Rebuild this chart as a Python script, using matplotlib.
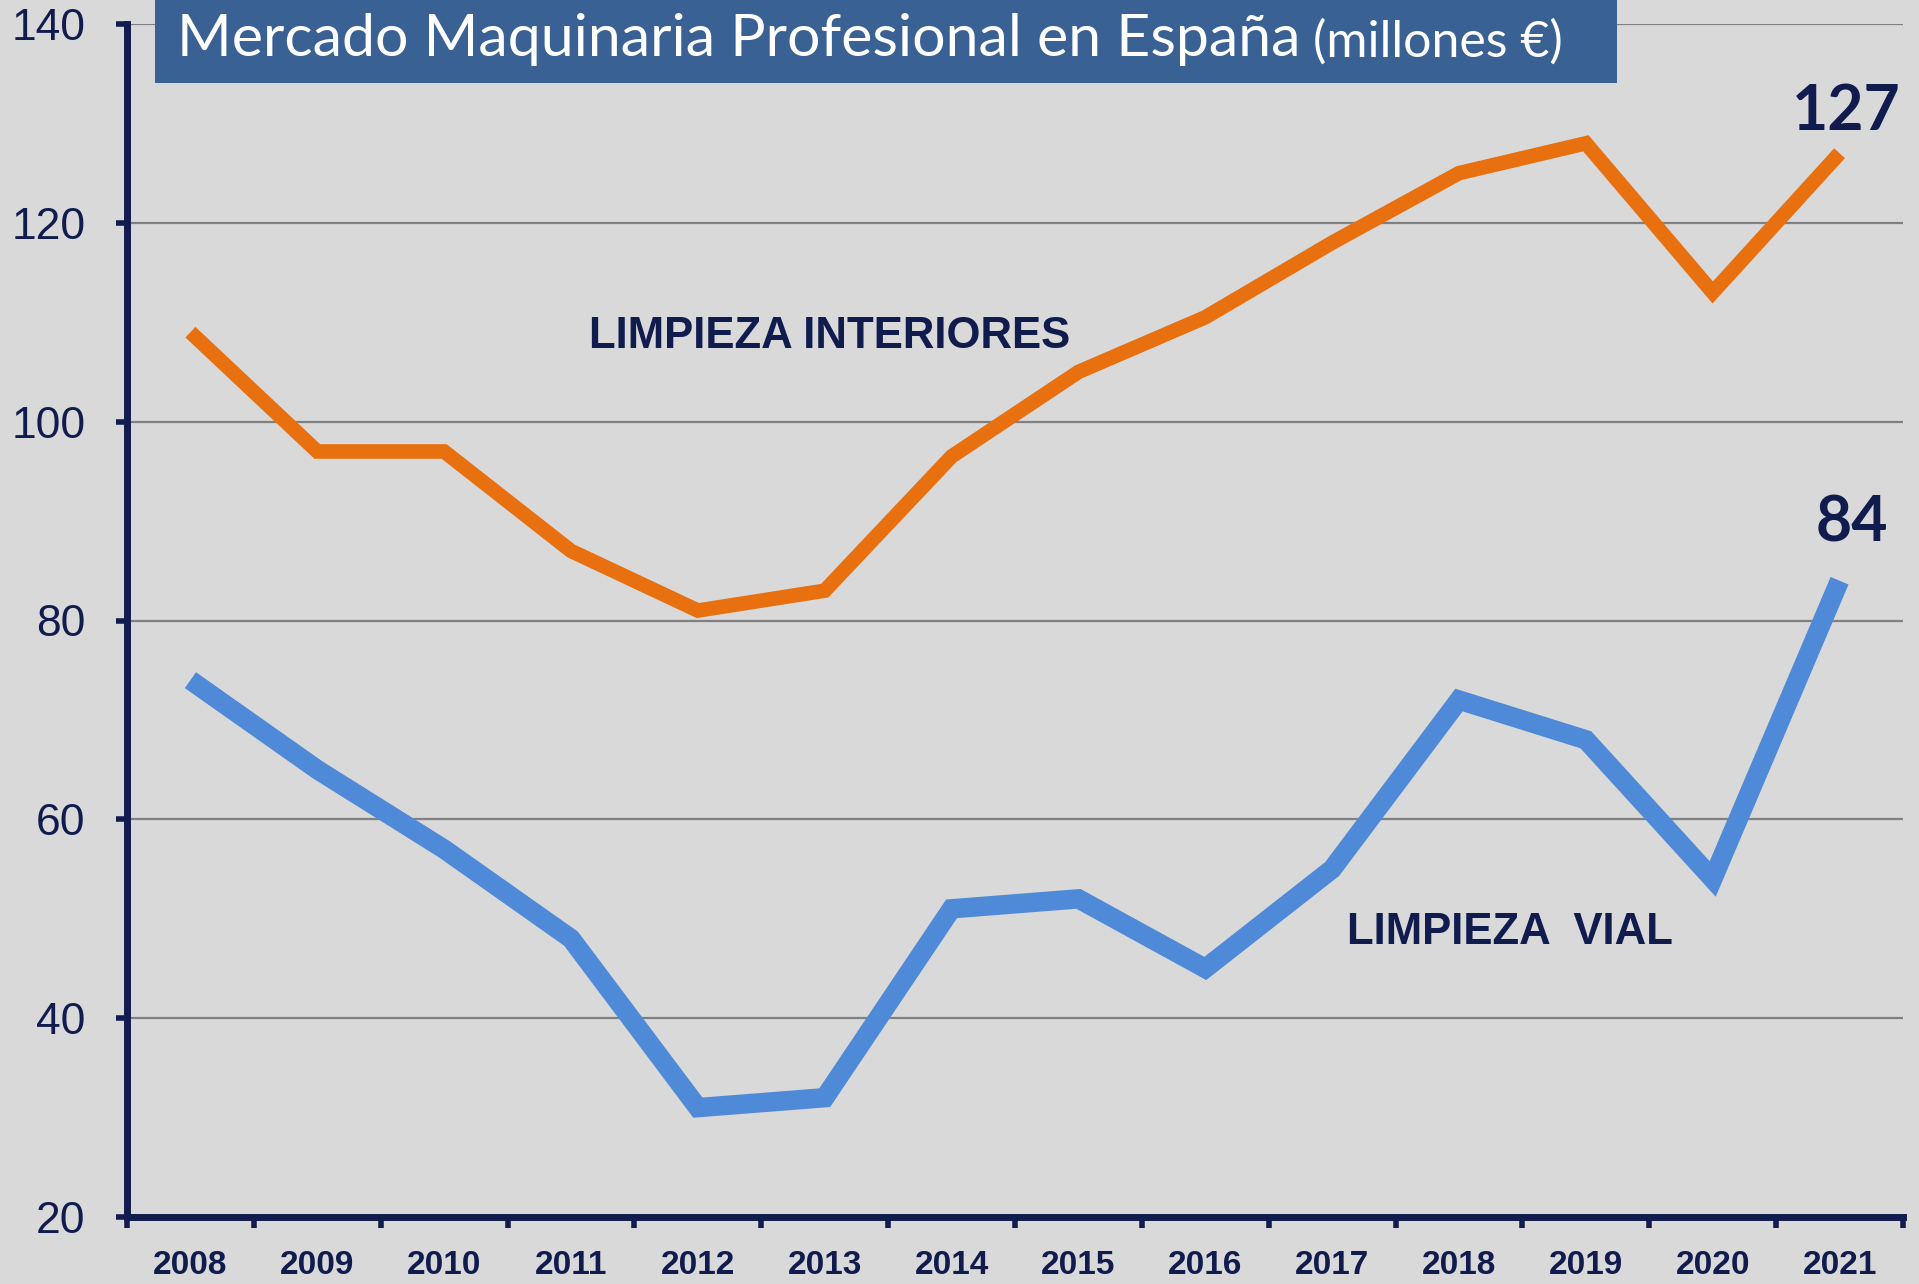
import matplotlib.pyplot as plt
from matplotlib.patches import Rectangle
from matplotlib.text import Annotation

years = ["2008", "2009", "2010", "2011", "2012", "2013", "2014",
         "2015", "2016", "2017", "2018", "2019", "2020", "2021"]
interiores = [109, 97, 97, 87, 81, 83, 96.5, 105, 110.5, 118, 125, 128, 113, 127]
vial = [74, 65, 57, 48, 31, 32, 51, 52, 45, 55, 72, 68, 54, 84]
yticks = [20, 40, 60, 80, 100, 120, 140]

title = "Mercado Maquinaria Profesional en España"
subtitle = "(millones €)"

bg = "#d9d9d9"
navy = "#111c4e"
orange = "#e8700f"
blue = "#4f8ad8"

fig = plt.figure(figsize=(19.19, 12.84), dpi=100, facecolor=bg)
ax = fig.add_axes([127 / 1919, 67 / 1284, 1776 / 1919, 1193 / 1284])
ax.set_facecolor(bg)

x = list(range(len(years)))
ax.plot(x, interiores, color=orange, lw=10.5, solid_joinstyle="miter",
        solid_capstyle="butt", zorder=3)
ax.plot(x, vial, color=blue, lw=14, solid_joinstyle="miter",
        solid_capstyle="butt", zorder=3)

ax.set_xlim(-0.5, len(years) - 0.5)
ax.set_ylim(20, 140)

# y axis
ax.set_yticks(yticks)
ax.set_yticklabels([str(v) for v in yticks], fontsize=32,
                   family="Liberation Sans", color=navy)
ax.tick_params(axis="y", length=8, width=4, color=navy, pad=22)
ax.yaxis.grid(True, color="#808080", lw=1.6, zorder=1)

# x axis: tick marks between categories, labels in the middle
ax.set_xticks([i - 0.5 for i in range(len(years) + 1)])
ax.set_xticklabels([])
ax.set_xticks(x, minor=True)
ax.set_xticklabels(years, minor=True, fontsize=24, fontweight="bold",
                   family="Liberation Sans", color=navy)
ax.tick_params(axis="x", which="major", length=8, width=4, color=navy)
ax.tick_params(axis="x", which="minor", length=0, pad=24)

for s in ["top", "right"]:
    ax.spines[s].set_visible(False)
for s in ["left", "bottom"]:
    ax.spines[s].set_color(navy)
    ax.spines[s].set_linewidth(5)
    ax.spines[s].set_zorder(4)

# series labels
ax.text(5.04, 108.6, "LIMPIEZA INTERIORES", fontsize=31.5, fontweight="bold",
        family="Liberation Sans", color=navy, ha="center", va="center")
ax.text(10.4, 48.6, "LIMPIEZA  VIAL", fontsize=31.5, fontweight="bold",
        family="Liberation Sans", color=navy, ha="center", va="center")

# end values
ax.annotate(f"{interiores[-1]:g}", (x[-1], interiores[-1]), xytext=(5, 29.5),
            textcoords="offset points", ha="center", va="center",
            fontsize=45, fontweight="bold", family="Lato", color=navy)
ax.annotate(f"{vial[-1]:g}", (x[-1], vial[-1]), xytext=(9, 41),
            textcoords="offset points", ha="center", va="center",
            fontsize=45, fontweight="bold", family="Lato", color=navy)

# title banner
fig.patches.append(Rectangle((155 / 1919, 1 - 83 / 1284), 1462 / 1919, 0.08,
                             transform=fig.transFigure, facecolor="#3a6194",
                             edgecolor="none", zorder=5))
t1 = fig.text(177 / 1919, 1 - 56 / 1284, title, fontsize=42.5, family="Lato",
              color="white", ha="left", va="baseline", zorder=6)
fig.add_artist(Annotation(subtitle, xy=(1, 0), xycoords=t1, xytext=(9, 0),
                          textcoords="offset points", fontsize=36, family="Lato",
                          color="white", ha="left", va="bottom", zorder=6,
                          annotation_clip=False))

fig.savefig("out.png", dpi=100, facecolor=bg)
